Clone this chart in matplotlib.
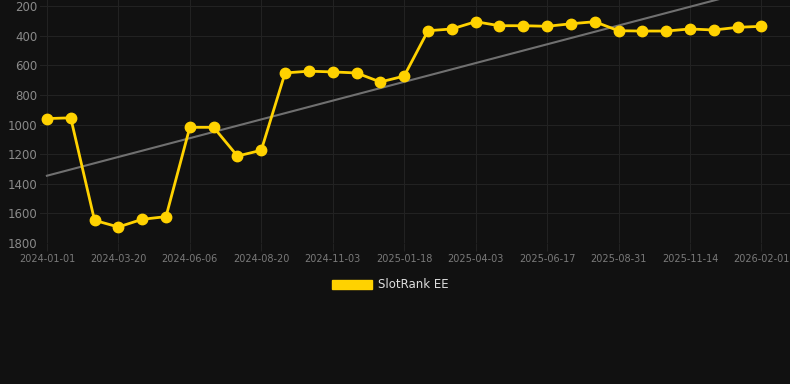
import numpy as np
import matplotlib
matplotlib.use("Agg")
import matplotlib.pyplot as plt
from matplotlib.patches import Patch

# tick labels (every third point carries a date label)
tick_labels = ["2024-01-01", "2024-03-20", "2024-06-06", "2024-08-20", "2024-11-03",
               "2025-01-18", "2025-04-03", "2025-06-17", "2025-08-31", "2025-11-14",
               "2026-02-01"]

# rank values, one per point
ranks = [960, 955, 1647, 1692, 1640, 1622, 1019, 1019, 1213, 1174,
         652, 640, 645, 652, 713, 673, 367, 355, 306, 333,
         333, 337, 320, 306, 367, 369, 369, 355, 362, 344, 337]

series_name = "SlotRank EE"

bg = "#111111"
grid_col = "#222222"
line_col = "#ffd200"

fig = plt.figure(figsize=(7.9, 3.84), dpi=100, facecolor=bg)
ax = fig.add_axes([40 / 790, (384 - 243) / 384, 750 / 790, 243 / 384])
ax.set_facecolor(bg)

x = np.arange(len(ranks))

# trend line (linear fit)
z = np.polyfit(x, ranks, 1)
p = np.poly1d(z)
ax.plot(x, p(x), color="#707070", lw=1.5, zorder=2)

ax.plot(x, ranks, color=line_col, lw=2.0, marker="o", markersize=7.5,
        markerfacecolor=line_col, markeredgecolor=line_col, zorder=3)

ax.set_xlim(-0.29, 31.2)
ax.set_ylim(1800, 200 - 6 / 0.148)
ax.set_yticks([200, 400, 600, 800, 1000, 1200, 1400, 1600, 1800])
ax.set_xticks(x[::3])
ax.set_xticklabels(tick_labels)

ax.grid(True, color=grid_col, lw=0.8)
for s in ax.spines.values():
    s.set_visible(False)
ax.tick_params(axis="y", colors="#8a8a8a", labelsize=8.5, length=0, pad=2)
ax.tick_params(axis="x", colors=grid_col, labelcolor="#7a7a7a", labelsize=7,
               length=6, width=0.8, pad=2)

leg = fig.legend(handles=[Patch(facecolor=line_col, edgecolor=line_col, label=series_name)],
                 loc="center", bbox_to_anchor=(390 / 790, 1 - 285 / 384),
                 frameon=False, fontsize=8.5, handlelength=3.4, handleheight=0.9,
                 handletextpad=0.5)
for t in leg.get_texts():
    t.set_color("#dddddd")

fig.savefig("out.png", dpi=100, facecolor=bg)
